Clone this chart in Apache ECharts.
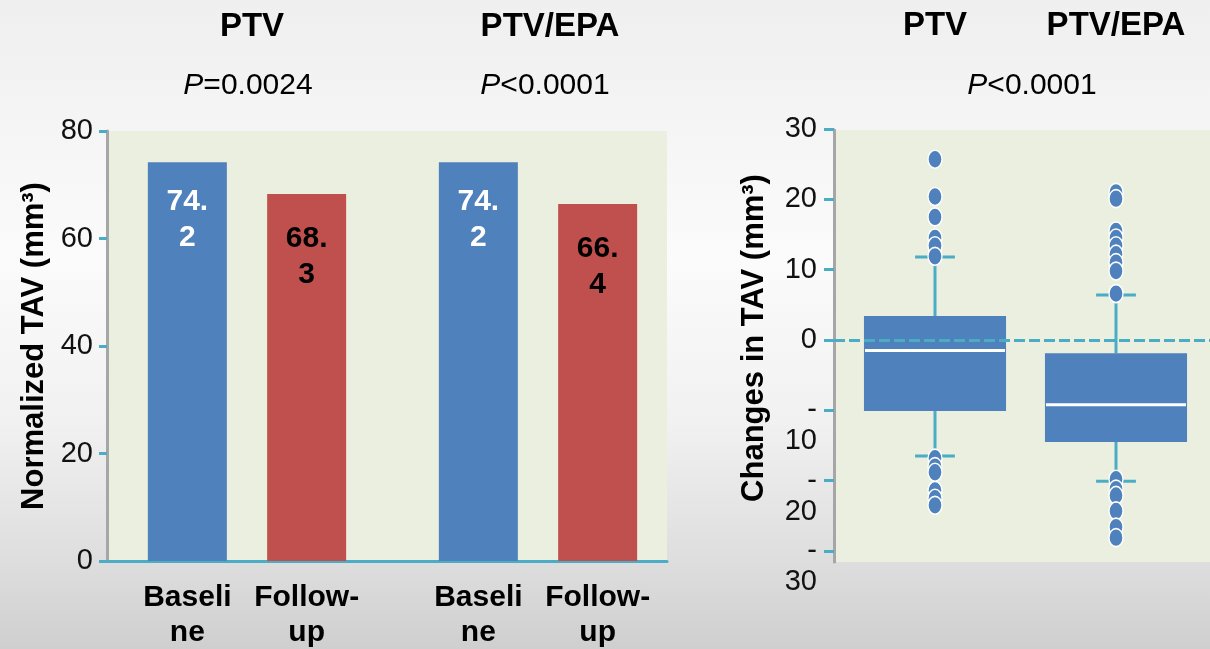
<!DOCTYPE html>
<html><head><meta charset="utf-8">
<script src="https://cdn.jsdelivr.net/npm/echarts@6/dist/echarts.min.js"></script>
<style>html,body{margin:0;padding:0;background:#eee;}#c{width:1210px;height:649px;}</style>
</head><body><div id="c"></div>
<script>
// ---- data ----
const groups = ['PTV', 'PTV/EPA'];
const pValuesLeft = ['=0.0024', '<0.0001'];
const pValueRight = '<0.0001';
const timeLabels = ['Baseli\nne', 'Follow-\nup'];
const baseline = [74.2, 74.2];
const followUp = [68.3, 66.4];
const leftTicks = { min: 0, max: 80, interval: 20 };
const changeTicks = { min: -30, max: 30, interval: 10 };
const zeroLine = 0;
// [lower whisker, Q1, median, Q3, upper whisker]
const ptvBox = [-16.5, -10.1, -1.5, 3.4, 11.8];
const ptvEpaBox = [-20.1, -14.5, -9.2, -1.9, 6.4];
const ptvOutliers = [25.7, 20.4, 17.5, 14.5, 13.4, 11.9, -16.8, -18.0, -18.8, -21.4, -22.5, -23.5];
const ptvEpaOutliers = [21.0, 20.1, 15.5, 14.5, 13.4, 12.2, 11.0, 9.8, 6.6, -19.8, -21.2, -22.1, -24.3, -26.6, -28.1];

// ---- style ----
const FONT = '"Liberation Sans", Arial, sans-serif';
const BLUE = '#4f81bd', RED = '#c0504d', CYAN = '#4bacc6', GREY = '#a6a6a6', PLOT = '#ebefdf';

const chart = echarts.init(document.getElementById('c'), null, { renderer: 'canvas' });

const boxData = [[0].concat(ptvBox), [1].concat(ptvEpaBox)];
const outlierData = ptvOutliers.map(v => [0, v]).concat(ptvEpaOutliers.map(v => [1, v]));

const pText = s => '{i|P}' + s;
const pRich = { i: { fontStyle: 'italic', fontSize: 30, fontFamily: FONT, color: '#000' } };

const axisLabelStyle = { fontSize: 29, fontFamily: FONT, color: '#111' };
const nameStyle = { fontSize: 31, fontWeight: 'bold', fontFamily: FONT, color: '#000' };
const valueLabel = (color, dist) => ({
  show: true, position: 'insideTop', distance: dist, color: color,
  fontSize: 30, fontWeight: 'bold', fontFamily: FONT, lineHeight: 36,
  formatter: p => String(p.value).replace('.', '.\n')
});
const catLabel = idx => ({
  show: true, position: 'bottom', distance: 19, color: '#000',
  fontSize: 30, fontWeight: 'bold', fontFamily: FONT, lineHeight: 35,
  formatter: () => timeLabels[idx]
});

// right panel: boxes grid, background grid (taller), and a wrapped-label grid shifted one text line down
const RIGHT_TOP = 129, RIGHT_BOTTOM_PX = 551, WRAP_SHIFT = 31;
const pxPerUnit = (RIGHT_BOTTOM_PX - RIGHT_TOP) / (changeTicks.max - changeTicks.min);
const bgMax = changeTicks.max - (130 - RIGHT_TOP) / pxPerUnit;
const bgMin = changeTicks.min - (562 - RIGHT_BOTTOM_PX) / pxPerUnit;

const option = {
  animation: false,
  backgroundColor: {
    type: 'linear', x: 0, y: 0, x2: 0, y2: 1,
    colorStops: [
      { offset: 0, color: '#efefef' },
      { offset: 0.4, color: '#fbfbfb' },
      { offset: 0.65, color: '#f1f1f1' },
      { offset: 0.87, color: '#dddddd' },
      { offset: 1, color: '#cfcfcf' }
    ]
  },
  title: [
    { text: groups[0], left: 252, top: 10, textAlign: 'center', padding: 0,
      textStyle: { fontSize: 33, fontWeight: 'bold', fontFamily: FONT, color: '#000' } },
    { text: groups[1], left: 550, top: 10, textAlign: 'center', padding: 0,
      textStyle: { fontSize: 33, fontWeight: 'bold', fontFamily: FONT, color: '#000' } },
    { text: pText(pValuesLeft[0]), left: 248, top: 71, textAlign: 'center', padding: 0,
      textStyle: { fontSize: 30, fontWeight: 'normal', fontFamily: FONT, color: '#000', rich: pRich } },
    { text: pText(pValuesLeft[1]), left: 545, top: 71, textAlign: 'center', padding: 0,
      textStyle: { fontSize: 30, fontWeight: 'normal', fontFamily: FONT, color: '#000', rich: pRich } },
    { text: pText(pValueRight), left: 1032, top: 71, textAlign: 'center', padding: 0,
      textStyle: { fontSize: 30, fontWeight: 'normal', fontFamily: FONT, color: '#000', rich: pRich } }
  ],
  grid: [
    // 0: left plot background + x axis line
    { left: 107, width: 560, top: 131, bottom: 88, show: true, backgroundColor: PLOT, borderWidth: 0 },
    // 1: left bars
    { left: 101.5, width: 582, top: 131, bottom: 88, show: false },
    // 2: right plot background + y axis line + zero line
    { left: 834, right: 0, top: 130, bottom: 87, show: true, backgroundColor: PLOT, borderWidth: 0 },
    // 3: right boxes
    { left: 844.5, width: 362, top: RIGHT_TOP, bottom: 649 - RIGHT_BOTTOM_PX, show: false },
    // 4: second line of wrapped negative tick labels
    { left: 834, right: 0, top: RIGHT_TOP + WRAP_SHIFT, bottom: 649 - RIGHT_BOTTOM_PX - WRAP_SHIFT, show: false }
  ],
  xAxis: [
    { type: 'value', gridIndex: 0, min: 0, max: 1,
      axisLine: { show: true, onZero: false, lineStyle: { color: CYAN, width: 3 } },
      axisTick: { show: false }, axisLabel: { show: false }, splitLine: { show: false } },
    { type: 'category', gridIndex: 1, data: groups,
      axisLine: { show: false }, axisTick: { show: false }, axisLabel: { show: false }, splitLine: { show: false } },
    { type: 'value', gridIndex: 2, min: 0, max: 1, show: false },
    { type: 'category', gridIndex: 3, data: groups, position: 'top',
      axisLine: { show: false }, axisTick: { show: false }, splitLine: { show: false },
      axisLabel: { margin: 87, fontSize: 33, fontWeight: 'bold', fontFamily: FONT, color: '#000' } },
    { type: 'value', gridIndex: 4, min: 0, max: 1, show: false }
  ],
  yAxis: [
    { type: 'value', gridIndex: 0, min: 0, max: 1, show: false },
    { type: 'value', gridIndex: 1, min: leftTicks.min, max: leftTicks.max, interval: leftTicks.interval,
      offset: -5.5,
      name: 'Normalized TAV (mm³)', nameLocation: 'middle', nameGap: 57, nameTextStyle: nameStyle,
      axisLine: { show: true, lineStyle: { color: GREY, width: 3 } },
      axisTick: { show: true, length: 8, lineStyle: { color: CYAN, width: 3 } },
      axisLabel: Object.assign({ margin: 14, showMinLabel: true, showMaxLabel: true }, axisLabelStyle),
      splitLine: { show: false } },
    { type: 'value', gridIndex: 2, min: bgMin, max: bgMax,
      axisLine: { show: true, onZero: false, lineStyle: { color: GREY, width: 3 } },
      axisTick: { show: false }, axisLabel: { show: false }, splitLine: { show: false } },
    { type: 'value', gridIndex: 3, min: changeTicks.min, max: changeTicks.max, interval: changeTicks.interval,
      offset: 10.5,
      name: 'Changes in TAV (mm³)', nameLocation: 'middle', nameGap: 64,
      nameTextStyle: Object.assign({ padding: [0, 0, 0, 4] }, nameStyle),
      axisLine: { show: false },
      axisTick: { show: true, length: 10, lineStyle: { color: CYAN, width: 3 } },
      axisLabel: Object.assign({ margin: 17, align: 'right', showMinLabel: true, showMaxLabel: true,
        formatter: v => v < 0 ? '-' : String(v) }, axisLabelStyle),
      splitLine: { show: false } },
    { type: 'value', gridIndex: 4, min: changeTicks.min, max: changeTicks.max, interval: changeTicks.interval,
      axisLine: { show: false }, axisTick: { show: false }, splitLine: { show: false },
      axisLabel: Object.assign({ margin: 17, align: 'right', showMinLabel: true, showMaxLabel: true,
        formatter: v => v < 0 ? String(Math.abs(v)) : '' }, axisLabelStyle) }
  ],
  series: [
    { type: 'bar', name: 'lblB', stack: 'b', xAxisIndex: 1, yAxisIndex: 1, silent: true,
      data: baseline.map(() => 0), barWidth: 79, barGap: '51%',
      itemStyle: { color: 'rgba(0,0,0,0)' }, label: catLabel(0) },
    { type: 'bar', name: 'Baseline', stack: 'b', xAxisIndex: 1, yAxisIndex: 1,
      data: baseline, barWidth: 79, barGap: '51%',
      itemStyle: { color: BLUE }, label: valueLabel('#fff', 22) },
    { type: 'bar', name: 'lblF', stack: 'f', xAxisIndex: 1, yAxisIndex: 1, silent: true,
      data: followUp.map(() => 0), barWidth: 79, barGap: '51%',
      itemStyle: { color: 'rgba(0,0,0,0)' }, label: catLabel(1) },
    { type: 'bar', name: 'Follow-up', stack: 'f', xAxisIndex: 1, yAxisIndex: 1,
      data: followUp, barWidth: 79, barGap: '51%',
      itemStyle: { color: RED }, label: valueLabel('#000', 27) },
    { type: 'line', name: 'zero', xAxisIndex: 2, yAxisIndex: 2, data: [], silent: true, z: 1,
      markLine: { silent: true, symbol: 'none', label: { show: false }, animation: false,
        lineStyle: { color: CYAN, width: 3, type: [11, 4] }, data: [{ yAxis: zeroLine }] } },
    { type: 'custom', name: 'box', xAxisIndex: 3, yAxisIndex: 3, z: 3, clip: false,
      data: boxData, encode: { x: 0, y: [1, 2, 3, 4, 5] },
      renderItem: (params, api) => {
        const x = api.value(0);
        const lo = api.coord([x, api.value(1)]);
        const q1 = api.coord([x, api.value(2)]);
        const md = api.coord([x, api.value(3)]);
        const q3 = api.coord([x, api.value(4)]);
        const hi = api.coord([x, api.value(5)]);
        const band = api.size([1, 0])[0];
        const bw = band * 0.785, cw = band * 0.22, cx = lo[0];
        const ls = { stroke: CYAN, lineWidth: 3 };
        return { type: 'group', children: [
          { type: 'line', shape: { x1: cx, y1: hi[1], x2: cx, y2: q3[1] }, style: ls },
          { type: 'line', shape: { x1: cx, y1: lo[1], x2: cx, y2: q1[1] }, style: ls },
          { type: 'line', shape: { x1: cx - cw / 2, y1: hi[1], x2: cx + cw / 2, y2: hi[1] }, style: ls },
          { type: 'line', shape: { x1: cx - cw / 2, y1: lo[1], x2: cx + cw / 2, y2: lo[1] }, style: ls },
          { type: 'rect', shape: { x: cx - bw / 2, y: q3[1], width: bw, height: q1[1] - q3[1] }, style: { fill: BLUE } },
          { type: 'line', shape: { x1: cx - bw / 2 + 1, y1: md[1], x2: cx + bw / 2 - 1, y2: md[1] }, style: { stroke: '#fff', lineWidth: 3 } }
        ] };
      } },
    { type: 'scatter', name: 'outliers', xAxisIndex: 3, yAxisIndex: 3, z: 4, clip: false,
      data: outlierData, symbol: 'circle', symbolSize: [14, 18],
      itemStyle: { color: BLUE, borderColor: '#fff', borderWidth: 1.5, opacity: 1 } }
  ]
};
chart.setOption(option);
</script>
</body></html>
